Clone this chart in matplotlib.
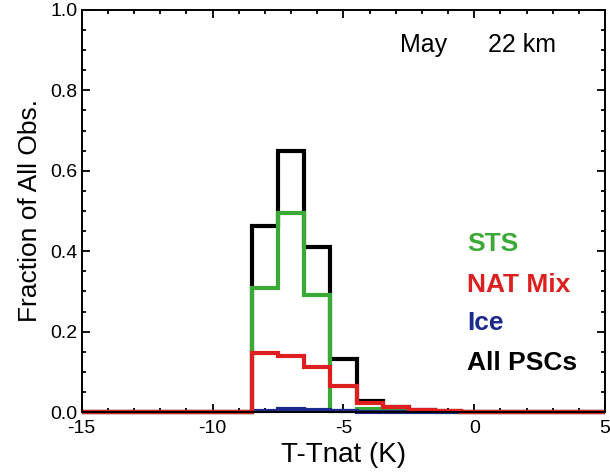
import matplotlib
matplotlib.use('Agg')
import matplotlib.pyplot as plt
import numpy as np
from matplotlib.ticker import MultipleLocator, FormatStrFormatter

plt.rcParams['font.family'] = ['Liberation Sans', 'DejaVu Sans']
plt.rcParams['axes.unicode_minus'] = False

# bin centres (K) and fractions per class
t_centres = np.arange(-15, 6)
#          -15 ... -9               -8     -7     -6     -5     -4     -3     -2     -1     0      1  2  3  4  5
all_pscs = [0, 0, 0, 0, 0, 0, 0, 0.463, 0.648, 0.410, 0.131, 0.028, 0.013, 0.005, 0.002, 0.001, 0, 0, 0, 0, 0]
sts      = [0, 0, 0, 0, 0, 0, 0, 0.308, 0.496, 0.291, 0.003, 0.007, 0.004, 0.002, 0.001, 0.000, 0, 0, 0, 0, 0]
nat_mix  = [0, 0, 0, 0, 0, 0, 0, 0.148, 0.139, 0.111, 0.065, 0.022, 0.013, 0.005, 0.002, 0.001, 0, 0, 0, 0, 0]
ice      = [0, 0, 0, 0, 0, 0, 0, 0.003, 0.008, 0.004, 0.002, 0.000, 0.000, 0.000, 0.000, 0.000, 0, 0, 0, 0, 0]

c_black = 'black'
c_green = '#3aa935'
c_red = '#dd1f1f'
c_blue = '#1c2a8c'

xmin, xmax = -15, 5

fig = plt.figure(figsize=(6.10, 4.72), dpi=100)
ax = fig.add_axes([0.134, 0.127, 0.858, 0.852])

# bin edges, trimmed to the plotted range
edges = np.clip(np.append(t_centres - 0.5, t_centres[-1] + 0.5), xmin, xmax)
for vals, col in [(all_pscs, c_black), (sts, c_green), (ice, c_blue), (nat_mix, c_red)]:
    v = np.append(vals, vals[-1])
    ax.step(edges, v, where='post', color=col, lw=3.0, solid_joinstyle='miter',
            solid_capstyle='butt', clip_on=False)

ax.set_xlim(xmin, xmax)
ax.set_ylim(0, 1.0)
ax.xaxis.set_major_locator(MultipleLocator(5))
ax.xaxis.set_minor_locator(MultipleLocator(1))
ax.yaxis.set_major_locator(MultipleLocator(0.2))
ax.yaxis.set_minor_locator(MultipleLocator(0.05))
ax.yaxis.set_major_formatter(FormatStrFormatter('%.1f'))
ax.tick_params(which='both', direction='in', top=True, right=True, labelsize=14, width=1.3)
ax.tick_params(which='major', length=6)
ax.tick_params(which='minor', length=3)
ax.tick_params(axis='x', pad=6)
ax.tick_params(axis='y', pad=3)
for s in ax.spines.values():
    s.set_linewidth(1.4)

ax.set_xlabel('T-Tnat (K)', fontsize=20, labelpad=3)
ax.set_ylabel('Fraction of All Obs.', fontsize=19, labelpad=6)

fig.text(400 / 610, 1 - 45 / 472, 'May', fontsize=18, va='center', ha='left')
fig.text(488 / 610, 1 - 45 / 472, '22 km', fontsize=18, va='center', ha='left')

labels = [('STS', c_green, 244), ('NAT Mix', c_red, 285), ('Ice', c_blue, 323), ('All PSCs', c_black, 363)]
for txt, col, ypx in labels:
    fig.text(467 / 610, 1 - ypx / 472, txt, color=col, fontsize=19, fontweight='bold', va='center', ha='left')

fig.savefig('out.png', dpi=100)
